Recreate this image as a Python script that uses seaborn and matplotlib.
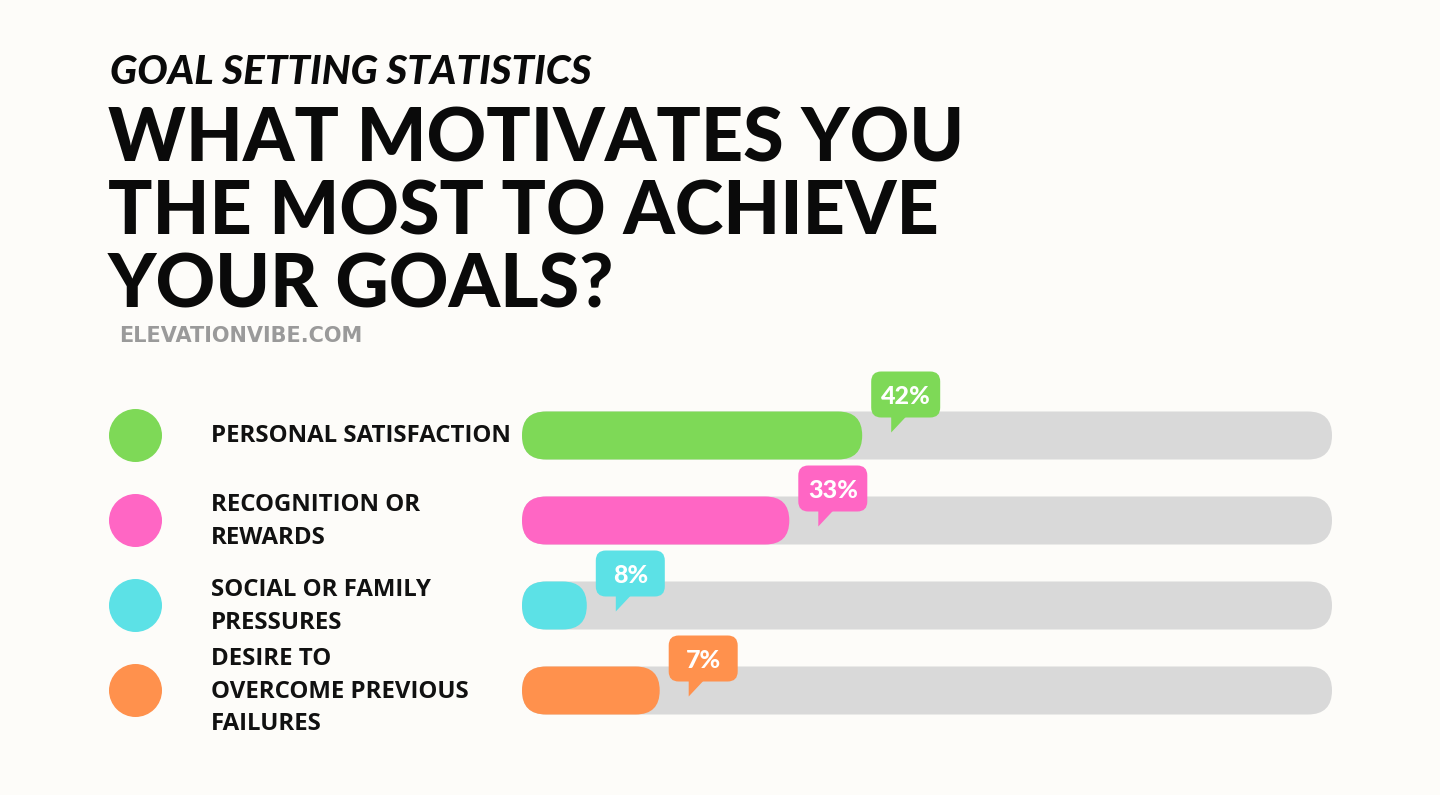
import matplotlib
matplotlib.use("Agg")
import matplotlib.pyplot as plt
import seaborn as sns
import pandas as pd
from matplotlib.patches import FancyBboxPatch, Polygon, Circle

# ---------------- data ----------------
categories = ["PERSONAL SATISFACTION",
              "RECOGNITION OR\nREWARDS",
              "SOCIAL OR FAMILY\nPRESSURES",
              "DESIRE TO\nOVERCOME PREVIOUS\nFAILURES"]
bar_values = [42, 33, 8, 17]          # bar lengths as drawn in the picture (%)
value_labels = ["42%", "33%", "8%", "7%"]
track_max = 100
colors = ["#7ED957", "#FF66C4", "#5CE1E6", "#FF914D"]

kicker = "GOAL SETTING STATISTICS"
title = "WHAT MOTIVATES YOU\nTHE MOST TO ACHIEVE\nYOUR GOALS?"
source = "ELEVATIONVIBE.COM"

# ---------------- layout / style ----------------
W, H = 1440, 795
bg = "#FDFCF9"
track_color = "#D9D9D9"
sns.set_theme(style="white")
plt.rcParams["font.family"] = ["Lato", "DejaVu Sans"]

fig = plt.figure(figsize=(W / 100, H / 100), dpi=100)
fig.patch.set_facecolor(bg)

ov = fig.add_axes([0, 0, 1, 1])
ov.set_xlim(0, W)
ov.set_ylim(H, 0)
ov.axis("off")
ov.set_facecolor("none")

x0, x1 = 522, 1332
row0, step = 435.5, 85
n = len(categories)
top = row0 - step / 2
bottom = row0 + step * (n - 1) + step / 2
ax = fig.add_axes([x0 / W, 1 - bottom / H, (x1 - x0) / W, (bottom - top) / H])
ax.set_facecolor("none")

df = pd.DataFrame({"cat": categories, "value": bar_values,
                   "full": [track_max] * n})
bar_px = 48
bar_w = bar_px / step
sns.barplot(data=df, y="cat", x="full", color=track_color, width=bar_w,
            ax=ax, orient="h", saturation=1)
sns.barplot(data=df, y="cat", x="value", hue="cat", palette=colors,
            width=bar_w, ax=ax, orient="h", legend=False, saturation=1)
ax.set_xlim(0, track_max)
ax.set_ylim(n - 0.5, -0.5)
ax.axis("off")

px_x = (x1 - x0) / track_max   # pixels per value unit
px_y = step                     # pixels per category unit
m_aspect = px_x / px_y

# turn seaborn's rectangles into pill shapes
r_bar = (bar_px / 2) / px_x
for p in list(ax.patches):
    x, y = p.get_x(), p.get_y()
    w, h = p.get_width(), p.get_height()
    fc = p.get_facecolor()
    p.remove()
    ax.add_patch(FancyBboxPatch((x, y), w, h,
                                boxstyle=f"round,pad=0,rounding_size={r_bar}",
                                mutation_aspect=m_aspect, fc=fc, ec="none",
                                zorder=2))

# callout bubbles
lift = [9, 0, 0, 0]
for i, (v, lab, c) in enumerate(zip(bar_values, value_labels, colors)):
    left = v + 9 / px_x
    bw = 69 / px_x
    btop = i + (-55 - lift[i]) / px_y
    bh = 46 / px_y
    bbot = btop + bh
    ax.add_patch(FancyBboxPatch((left, btop), bw, bh,
                                boxstyle=f"round,pad=0,rounding_size={10 / px_x}",
                                mutation_aspect=m_aspect, fc=c, ec="none",
                                zorder=4, clip_on=False))
    ax.add_patch(Polygon([(left + 20 / px_x, bbot - 1 / px_y),
                          (left + 35 / px_x, bbot - 1 / px_y),
                          (left + 20 / px_x, bbot + 15 / px_y)],
                         closed=True, fc=c, ec="none", zorder=4, clip_on=False))
    ax.text(left + bw / 2, btop + bh / 2, lab, ha="center", va="center_baseline",
            color="white", fontsize=18, fontweight="black", zorder=5,
            clip_on=False)

# legend dots and labels
for i, (cat, c) in enumerate(zip(categories, colors)):
    yc = row0 + step * i
    ov.add_patch(Circle((135.5, yc), 26.5, fc=c, ec="none"))
    ov.text(211, yc + 1, cat, ha="left", va="center", fontsize=17.3,
            fontweight="bold", color="#111111", linespacing=1.48,
            family=["Open Sans", "DejaVu Sans"])

# header texts
ov.text(110, 84, kicker, ha="left", va="baseline", fontsize=29,
        fontweight="black", style="italic", color="#0A0A0A")
ov.text(108, 308, title, ha="left", va="baseline", fontsize=53,
        fontweight="black", color="#0A0A0A", linespacing=1.08)
ov.text(119, 342, source, ha="left", va="baseline", fontsize=15,
        fontweight="bold", color="#9A9A9A", family=["DejaVu Sans"])

fig.savefig("out.png", dpi=100, facecolor=bg)
